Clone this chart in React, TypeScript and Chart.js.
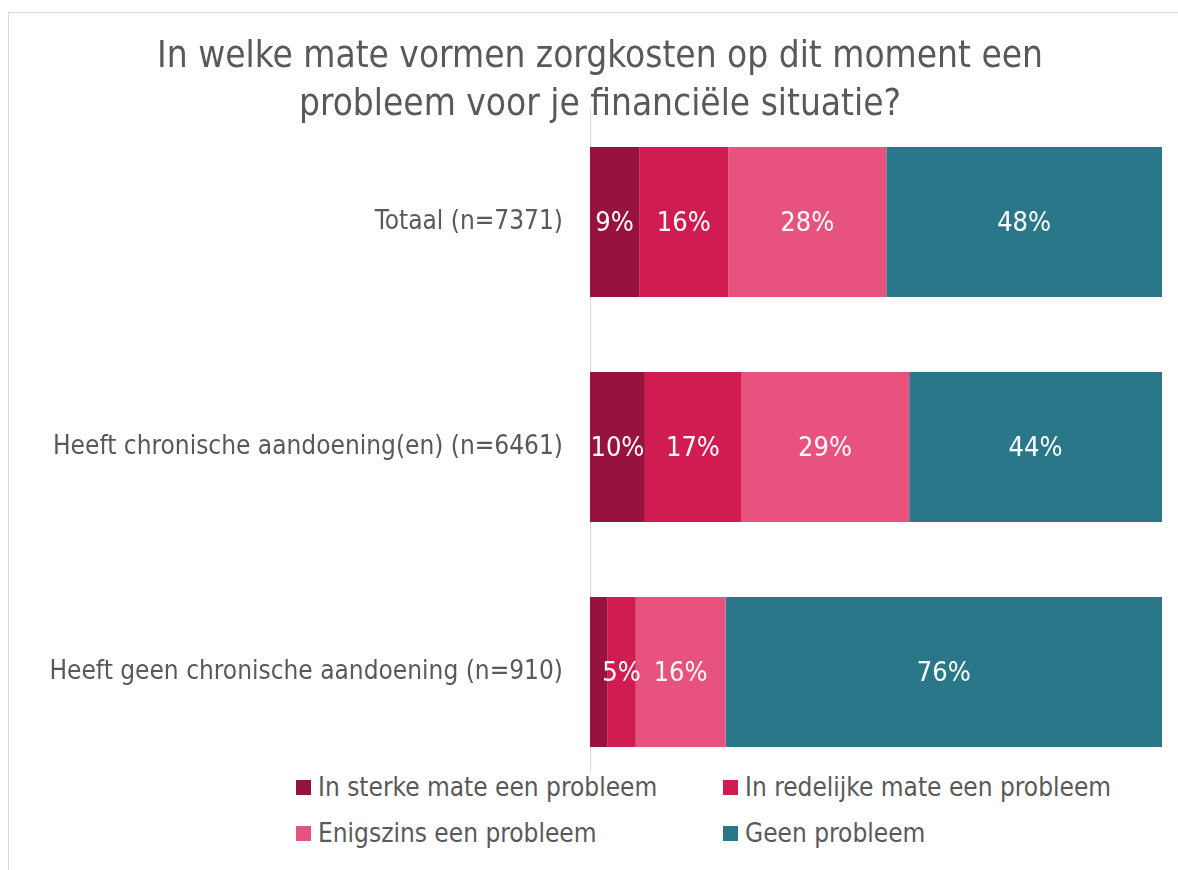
import React, { useEffect, useRef } from "react";
import { Chart, registerables } from "chart.js";

Chart.register(...registerables);

const titleLines = [
  "In welke mate vormen zorgkosten op dit moment een",
  "probleem voor je financiële situatie?",
];
const categories = [
  "Totaal (n=7371)",
  "Heeft chronische aandoening(en) (n=6461)",
  "Heeft geen chronische aandoening (n=910)",
];
const seriesNames = [
  "In sterke mate een probleem",
  "In redelijke mate een probleem",
  "Enigszins een probleem",
  "Geen probleem",
];
const sterk = [8.6, 9.6, 3.0];
const redelijk = [15.6, 16.8, 5.0];
const enigszins = [27.6, 29.4, 15.7];
const geen = [48.2, 44.2, 76.3];
const colors = ["#98123F", "#D11C52", "#E8527F", "#2B778A"];

const FONT = "'DejaVu Sans Condensed', 'DejaVu Sans', sans-serif";
const TEXT = "#595959";

const labelPlugin = {
  id: "segLabels",
  afterDatasetsDraw(chart: any) {
    const ctx = chart.ctx;
    ctx.save();
    ctx.font = `27px ${FONT}`;
    ctx.fillStyle = "#ffffff";
    ctx.textAlign = "center";
    ctx.textBaseline = "middle";
    chart.data.datasets.forEach((ds: any, di: number) => {
      const meta = chart.getDatasetMeta(di);
      meta.data.forEach((el: any, i: number) => {
        const v = ds.data[i] as number;
        if (v < 4) return;
        const p = el.getProps(["x", "y", "base"], true);
        const cx = (p.x + p.base) / 2;
        ctx.fillText(`${Math.round(v)}%`, cx, p.y + 2);
      });
    });
    ctx.restore();
  },
};

export default function App() {
  const ref = useRef<HTMLCanvasElement>(null);
  useEffect(() => {
    if (!ref.current) return;
    const all = [sterk, redelijk, enigszins, geen];
    const chart = new Chart(ref.current, {
      type: "bar",
      data: {
        labels: categories,
        datasets: all.map((d, i) => ({
          label: seriesNames[i],
          data: d,
          backgroundColor: colors[i],
          borderWidth: 0,
          categoryPercentage: 1,
          barPercentage: 0.6667,
        })),
      },
      options: {
        indexAxis: "y",
        animation: false,
        responsive: true,
        maintainAspectRatio: false,
        layout: { padding: { left: 38, right: 16, top: 0, bottom: 85.5 } },
        plugins: {
          legend: { display: false },
          tooltip: { enabled: false },
          title: {
            display: true,
            text: titleLines,
            color: TEXT,
            font: { family: FONT, size: 36.7, weight: "normal", lineHeight: 1.3 },
            padding: { top: 33.5, bottom: -19.4 },
          },
        },
        scales: {
          x: { stacked: true, min: 0, max: 100, display: false },
          y: {
            stacked: true,
            grid: { display: false, drawTicks: false },
            border: { display: true, color: "#d9d9d9", width: 1 },
            ticks: {
              color: TEXT,
              padding: 27,
              font: { family: FONT, size: 26 },
            },
            afterFit(scale: any) {
              scale.width = 552;
            },
          },
        },
      },
      plugins: [labelPlugin],
    } as any);
    return () => chart.destroy();
  }, []);

  const legendItem = (i: number, left: number, top: number) => (
    <div
      key={i}
      style={{
        position: "absolute",
        left,
        top,
        height: 30,
        display: "flex",
        alignItems: "center",
        fontFamily: FONT,
        fontSize: 26,
        color: TEXT,
        whiteSpace: "nowrap",
      }}
    >
      <span
        style={{
          display: "inline-block",
          width: 15,
          height: 15,
          background: colors[i],
          marginRight: 7,
        }}
      />
      {seriesNames[i]}
    </div>
  );

  return (
    <div
      style={{
        position: "fixed",
        left: 0,
        top: 0,
        width: 1178,
        height: 870,
        overflow: "hidden",
        background: "#ffffff",
      }}
    >
      <div
        style={{
          position: "absolute",
          left: 8,
          top: 12,
          width: 1200,
          height: 900,
          border: "1px solid #d9d9d9",
        }}
      />
      <canvas ref={ref} style={{ position: "absolute", left: 0, top: 0 }} />
      <div
        style={{
          position: "absolute",
          left: 280,
          top: 772,
          width: 880,
          height: 90,
          background: "#ffffff",
        }}
      />
      {legendItem(0, 296, 772)}
      {legendItem(1, 723, 772)}
      {legendItem(2, 296, 818)}
      {legendItem(3, 723, 818)}
    </div>
  );
}
